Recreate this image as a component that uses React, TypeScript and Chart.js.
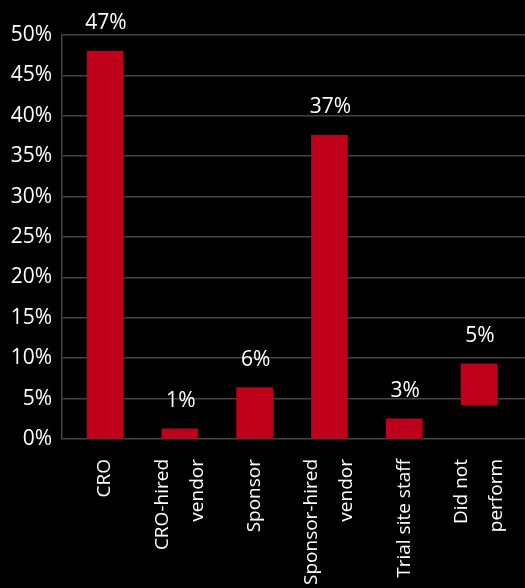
import React, { useEffect, useRef } from 'react';
import { Chart, registerables } from 'chart.js';

Chart.register(...registerables);

const categories: string[][] = [
  ['CRO'],
  ['CRO-hired', 'vendor'],
  ['Sponsor'],
  ['Sponsor-hired', 'vendor'],
  ['Trial site staff'],
  ['Did not', 'perform'],
];
const barStarts = [0, 0, 0, 0, 0, 4.25];
const barEnds = [48.0, 1.25, 6.35, 37.6, 2.5, 9.3];
const valueLabels = ['47%', '1%', '6%', '37%', '3%', '5%'];
const yMin = 0;
const yMax = 50;
const yStep = 5;

const FONT = '"Open Sans", "DejaVu Sans", sans-serif';
const LINE_SHIFT = 0.234; // half line spacing in category units

export default function App() {
  const ref = useRef<HTMLCanvasElement | null>(null);

  useEffect(() => {
    document.body.style.margin = '0';
    document.body.style.background = '#000';
    const canvas = ref.current;
    if (!canvas) return;

    const valueLabelPlugin = {
      id: 'valueLabels',
      afterDatasetsDraw(chart: any) {
        const { ctx } = chart;
        const meta = chart.getDatasetMeta(0);
        ctx.save();
        ctx.fillStyle = '#ffffff';
        ctx.font = `21px ${FONT}`;
        ctx.textAlign = 'center';
        ctx.textBaseline = 'alphabetic';
        meta.data.forEach((el: any, i: number) => {
          const top = Math.min(el.y, el.base);
          ctx.fillText(valueLabels[i], el.x + 1, top - 22);
        });
        ctx.restore();
      },
    };

    const chart = new Chart(canvas, {
      type: 'bar',
      data: {
        datasets: [
          {
            data: categories.map((_, i) => ({ x: i, y: [barStarts[i], barEnds[i]] })) as any,
            backgroundColor: '#BE001A',
            borderWidth: 0,
            barThickness: 36,
          },
        ],
      },
      options: {
        animation: false,
        responsive: false,
        maintainAspectRatio: false,
        layout: { padding: { top: 35, left: 0, right: 0, bottom: 0 } },
        plugins: {
          legend: { display: false },
          tooltip: { enabled: false },
        },
        scales: {
          x: {
            type: 'linear',
            offset: false,
            min: -0.575,
            max: 5.615,
            grid: { display: false, drawTicks: false, offset: false },
            border: { display: false },
            afterBuildTicks: (axis: any) => {
              axis.ticks = categories.map((c, i) => ({ value: i - (c.length - 1) * LINE_SHIFT }));
            },
            afterFit: (axis: any) => {
              axis.height = 149;
              axis.paddingLeft = 0;
              axis.paddingRight = 0;
            },
            ticks: {
              autoSkip: false,
              minRotation: 90,
              maxRotation: 90,
              padding: 20,
              color: '#ffffff',
              font: { family: FONT, size: 19, lineHeight: 35 / 19 },
              callback: (_v: any, index: number) => categories[index],
            },
          },
          y: {
            min: yMin,
            max: yMax,
            grid: { color: '#454545', lineWidth: 1.5, drawTicks: false },
            border: { display: true, color: '#454545', width: 1.5 },
            afterFit: (axis: any) => {
              axis.width = 62;
            },
            ticks: {
              stepSize: yStep,
              padding: 10,
              color: '#ffffff',
              font: { family: FONT, size: 21 },
              callback: (v: any) => `${v}%`,
            },
          },
        },
      },
      plugins: [valueLabelPlugin],
    });

    return () => chart.destroy();
  }, []);

  return (
    <div style={{ position: 'fixed', left: 0, top: 0, width: 525, height: 588, background: '#000' }}>
      <canvas ref={ref} width={525} height={588} style={{ width: 525, height: 588 }} />
    </div>
  );
}
